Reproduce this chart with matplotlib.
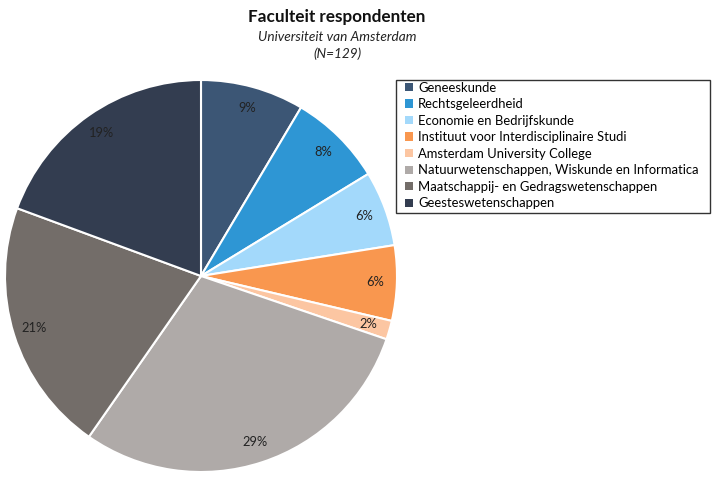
import matplotlib
matplotlib.use("Agg")
import matplotlib.pyplot as plt
from matplotlib.patches import Patch, Rectangle

categories = ["Geneeskunde", "Rechtsgeleerdheid", "Economie en Bedrijfskunde",
              "Instituut voor Interdisciplinaire Studi", "Amsterdam University College",
              "Natuurwetenschappen, Wiskunde en Informatica",
              "Maatschappij- en Gedragswetenschappen", "Geesteswetenschappen"]
counts = [11, 10, 8, 8, 2, 38, 27, 25]
colors = ["#3C5675", "#2E96D4", "#A3D9FB", "#F9974F", "#FCC6A2",
          "#AFAAA8", "#736D69", "#333D50"]

plt.rcParams['font.family'] = ['Lato', 'DejaVu Sans']

W, H = 712, 478
fig = plt.figure(figsize=(W/100, H/100), dpi=100)
cx, cy, r = 201, 276, 196
ax = fig.add_axes([(cx - r)/W, (H - cy - r)/H, 2*r/W, 2*r/H])
wedges, texts, autotexts = ax.pie(
    counts, colors=colors, startangle=90, counterclock=False, radius=1,
    autopct=lambda p: f"{p:.0f}%", pctdistance=0.89,
    wedgeprops=dict(edgecolor="white", linewidth=1.5),
    textprops=dict(fontsize=9.3, color="#222222"))
ax.set_xlim(-1, 1)
ax.set_ylim(-1, 1)
ax.set_aspect('equal')
ax.axis('off')

fig.text(337/W, 1 - 17/H, "Faculteit respondenten", ha="center", va="center",
         fontsize=12.3, fontweight="bold", color="#111111")
fig.text(337/W, 1 - 37/H, "Universiteit van Amsterdam", ha="center", va="center",
         fontsize=9.8, style="italic", color="#222222")
fig.text(337/W, 1 - 54/H, "(N=129)", ha="center", va="center",
         fontsize=9.8, style="italic", color="#222222")

# legend frame
fig.add_artist(Rectangle((396/W, 1 - 213/H), (710 - 396)/W, (213 - 80)/H,
                         transform=fig.transFigure, facecolor="white",
                         edgecolor="#333333", linewidth=1.0))

handles = [Patch(facecolor=c, edgecolor="none") for c in colors]
leg = fig.legend(handles, categories, loc="upper left",
                 bbox_to_anchor=(405/W, 1 - 81.5/H), fontsize=9.4,
                 frameon=False,
                 handlelength=0.6, handleheight=0.6, handletextpad=0.4,
                 labelspacing=0.35, borderpad=0.0, borderaxespad=0)

fig.savefig("out.png", dpi=100)
